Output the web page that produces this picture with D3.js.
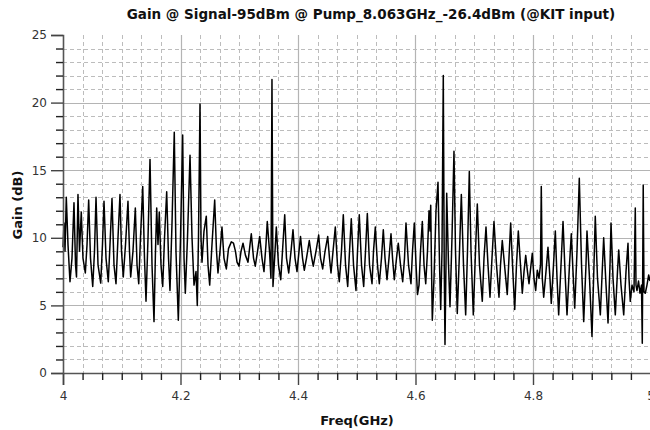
<!DOCTYPE html>
<html>
<head>
<meta charset="utf-8">
<script src="https://cdn.jsdelivr.net/npm/d3@7/dist/d3.min.js"></script>
<style>
  html, body { margin: 0; padding: 0; background: #fff; }
  svg { display: block; }
</style>
</head>
<body>
<svg id="chart" width="650" height="430"></svg>
<script>
const titleText = "Gain @ Signal-95dBm @ Pump_8.063GHz_-26.4dBm (@KIT input)";
const xLabel = "Freq(GHz)";
const yLabel = "Gain (dB)";
const xTickValues = [4, 4.2, 4.4, 4.6, 4.8, 5];
const xTickLabels = ["4", "4.2", "4.4", "4.6", "4.8", "5"];
const yTickValues = [0, 5, 10, 15, 20, 25];
const yTickLabels = ["0", "5", "10", "15", "20", "25"];

const freq = [
4.0000,4.0017,4.0034,4.0056,4.0085,4.0119,4.0153,4.0187,4.0213,4.0230,
4.0255,4.0281,4.0311,4.0340,4.0380,4.0409,4.0437,4.0468,4.0506,4.0536,
4.0562,4.0596,4.0642,4.0672,4.0698,4.0732,4.0771,4.0800,4.0834,4.0868,
4.0902,4.0936,4.0970,4.0996,4.1026,4.1064,4.1106,4.1132,4.1152,4.1191,
4.1231,4.1260,4.1289,4.1319,4.1357,4.1387,4.1413,4.1447,4.1481,4.1515,
4.1549,4.1574,4.1595,4.1617,4.1639,4.1668,4.1697,4.1728,4.1765,4.1796,
4.1821,4.1855,4.1894,4.1923,4.1963,4.2000,4.2037,4.2060,4.2082,4.2119,
4.2162,4.2196,4.2230,4.2264,4.2286,4.2306,4.2332,4.2349,4.2366,4.2400,
4.2439,4.2468,4.2497,4.2536,4.2582,4.2613,4.2638,4.2672,4.2706,4.2740,
4.2780,4.2817,4.2865,4.2902,4.2936,4.2962,4.2996,4.3030,4.3064,4.3106,
4.3149,4.3183,4.3205,4.3243,4.3273,4.3311,4.3348,4.3387,4.3421,4.3455,
4.3477,4.3515,4.3540,4.3557,4.3574,4.3609,4.3631,4.3668,4.3706,4.3736,
4.3774,4.3804,4.3842,4.3881,4.3915,4.3949,4.3983,4.4017,4.4043,4.4077,
4.4107,4.4145,4.4192,4.4230,4.4260,4.4306,4.4352,4.4383,4.4420,4.4460,
4.4506,4.4536,4.4562,4.4596,4.4635,4.4672,4.4703,4.4740,4.4771,4.4809,
4.4846,4.4877,4.4907,4.4945,4.4987,4.5013,4.5043,4.5081,4.5118,4.5149,
4.5180,4.5217,4.5260,4.5285,4.5316,4.5353,4.5384,4.5421,4.5452,4.5481,
4.5515,4.5549,4.5583,4.5609,4.5639,4.5677,4.5707,4.5745,4.5782,4.5813,
4.5838,4.5881,4.5923,4.5949,4.5980,4.6009,4.6034,4.6060,4.6085,4.6116,
4.6145,4.6174,4.6204,4.6230,4.6247,4.6259,4.6272,4.6286,4.6315,4.6349,
4.6383,4.6409,4.6429,4.6451,4.6473,4.6489,4.6502,4.6519,4.6531,4.6562,
4.6587,4.6621,4.6655,4.6681,4.6711,4.6749,4.6780,4.6817,4.6854,4.6885,
4.6916,4.6945,4.6984,4.7021,4.7052,4.7089,4.7137,4.7166,4.7200,4.7234,
4.7268,4.7302,4.7336,4.7379,4.7421,4.7447,4.7477,4.7515,4.7562,4.7591,
4.7620,4.7651,4.7689,4.7719,4.7750,4.7787,4.7818,4.7847,4.7876,4.7906,
4.7932,4.7966,4.7988,4.8017,4.8046,4.8073,4.8102,4.8128,4.8141,4.8158,
4.8182,4.8221,4.8255,4.8289,4.8311,4.8349,4.8380,4.8409,4.8437,4.8477,
4.8511,4.8545,4.8579,4.8621,4.8652,4.8681,4.8710,4.8749,4.8788,4.8826,
4.8863,4.8902,4.8919,4.8962,4.9004,4.9038,4.9060,4.9098,4.9146,4.9183,
4.9203,4.9243,4.9277,4.9311,4.9328,4.9362,4.9401,4.9438,4.9459,4.9498,
4.9544,4.9583,4.9617,4.9634,4.9656,4.9685,4.9719,4.9741,4.9753,4.9770,
4.9796,4.9821,4.9847,4.9860,4.9876,4.9889,4.9911,4.9940,4.9969,4.9991
];

const gain = [
9.3,11.1,9.0,13.0,9.5,6.75,8.5,12.6,8.0,7.1,
13.2,9.0,11.9,8.5,7.4,9.5,12.8,8.5,6.4,9.0,
13.0,8.0,6.65,9.5,12.7,8.5,6.75,9.5,12.9,8.0,
6.6,10.0,13.2,9.0,7.1,9.5,12.7,9.0,7.1,9.0,
12.2,8.0,6.6,10.0,13.8,8.5,5.3,10.0,15.8,8.0,
3.8,9.0,12.2,9.5,11.9,8.0,6.4,10.0,13.4,8.5,
6.1,11.0,17.8,9.0,3.9,10.0,17.6,8.5,5.9,10.0,
16.1,10.0,6.5,7.5,5.0,10.0,19.9,10.0,8.2,10.5,
11.6,8.0,6.5,9.5,12.8,9.0,7.4,9.0,10.8,8.5,
7.7,9.2,9.7,9.6,9.0,8.2,7.9,9.0,9.6,8.7,
8.2,9.5,10.3,8.5,7.9,9.0,10.1,8.5,7.5,9.5,
11.2,9.0,7.0,21.7,6.4,9.0,10.8,8.0,6.9,9.0,
11.7,8.5,7.4,9.0,10.6,8.5,7.5,9.0,10.1,8.5,
7.6,8.5,9.8,8.6,7.9,9.0,10.2,8.5,7.7,9.0,
10.1,8.5,7.4,9.0,10.8,8.0,6.75,9.0,11.7,8.0,
6.4,9.0,11.4,8.0,6.1,9.0,11.7,8.0,6.4,9.0,
11.8,8.0,6.6,9.0,10.8,8.0,6.6,8.5,10.6,8.5,
6.9,8.5,10.3,8.5,6.9,8.5,9.6,8.0,6.75,8.5,
11.1,8.0,6.6,9.0,11.1,8.0,5.8,6.5,9.0,11.2,
8.0,6.6,9.0,12.0,10.5,12.4,8.0,3.9,7.0,12.0,
14.1,8.0,4.7,9.0,22.0,8.0,2.1,8.0,13.3,8.0,
4.9,10.0,16.4,9.0,4.4,9.0,13.2,8.0,4.3,9.0,
14.9,9.0,4.3,9.0,12.5,8.0,5.3,8.5,10.8,8.0,
5.6,8.5,11.2,8.0,5.6,8.0,9.8,8.0,5.8,8.5,
11.1,8.0,4.7,8.0,10.5,8.0,5.9,7.5,8.7,7.5,
6.6,8.0,8.85,7.0,6.1,7.6,7.0,8.0,13.8,7.0,
5.6,7.5,9.3,7.0,5.15,8.0,10.5,7.0,4.3,8.0,
11.2,7.5,4.3,8.0,10.3,7.5,4.8,9.0,14.4,8.0,
3.8,8.0,10.5,7.0,2.7,8.0,11.6,7.0,4.3,8.0,
10.0,6.5,3.7,8.0,11.1,7.0,4.3,7.5,9.1,6.5,
4.3,7.5,9.6,7.0,5.3,6.5,6.0,12.2,6.5,6.1,
6.8,5.9,6.5,2.2,13.9,6.0,5.9,6.5,7.25,6.8
];

const svg = d3.select("#chart");
const W = 650, H = 430;
const m = { left: 63, right: -0.5, top: 35, bottom: 57 };
const x = d3.scaleLinear().domain([4, 5]).range([m.left, W - m.right]);
const y = d3.scaleLinear().domain([0, 25]).range([H - m.bottom, m.top]);

svg.append("rect").attr("width", W).attr("height", H).attr("fill", "#fff");

// grid
const xMinor = d3.range(1, 30).map(i => 4 + i / 30);
const yMinor = d3.range(1, 25);
const grid = svg.append("g");
xMinor.forEach((v, i) => {
  const major = (i + 1) % 6 === 0;
  grid.append("line")
    .attr("x1", Math.round(x(v)) + 0.5).attr("x2", Math.round(x(v)) + 0.5)
    .attr("y1", y(25)).attr("y2", y(0))
    .attr("stroke", major ? "#b4b4b4" : "#bcbcbc")
    .attr("stroke-width", major ? 1.2 : 1)
    .attr("stroke-dasharray", major ? null : "4,3");
});
yMinor.forEach(v => {
  const major = v % 5 === 0;
  grid.append("line")
    .attr("x1", x(4)).attr("x2", W)
    .attr("y1", Math.round(y(v)) + 0.5).attr("y2", Math.round(y(v)) + 0.5)
    .attr("stroke", major ? "#b4b4b4" : "#bcbcbc")
    .attr("stroke-width", major ? 1.2 : 1)
    .attr("stroke-dasharray", major ? null : "4,3");
});

// data line
const pts = freq.map((f, i) => [f, gain[i]]);
const line = d3.line().x(d => x(d[0])).y(d => y(d[1]));
svg.append("path").datum(pts)
  .attr("d", line)
  .attr("fill", "none")
  .attr("stroke", "#000")
  .attr("stroke-width", 1.5)
  .attr("stroke-linejoin", "round");

// axes
const axisColor = "#555";
const xAxis = d3.axisBottom(x).tickValues(xTickValues)
  .tickFormat((d, i) => xTickLabels[i]).tickSize(12).tickPadding(6);
const yAxis = d3.axisLeft(y).tickValues(yTickValues)
  .tickFormat((d, i) => yTickLabels[i]).tickSize(12).tickPadding(4);

const gx = svg.append("g").attr("transform", `translate(0,${y(0)})`).call(xAxis);
const gy = svg.append("g").attr("transform", `translate(${x(4)},0)`).call(yAxis);
[gx, gy].forEach(g => {
  g.select(".domain").attr("stroke", axisColor).attr("stroke-width", 1.6);
  g.selectAll(".tick line").attr("stroke", "#444").attr("stroke-width", 1.4);
  g.selectAll(".tick text").attr("fill", "#333")
    .style("font-family", "DejaVu Sans, sans-serif").style("font-size", "12px");
});

// minor ticks
const gxm = svg.append("g").attr("transform", `translate(0,${y(0)})`)
  .call(d3.axisBottom(x).tickValues(xMinor.filter((v, i) => (i + 1) % 6 !== 0)).tickSize(7).tickFormat(""));
const gym = svg.append("g").attr("transform", `translate(${x(4)},0)`)
  .call(d3.axisLeft(y).tickValues(yMinor.filter(v => v % 5 !== 0)).tickSize(7).tickFormat(""));
[gxm, gym].forEach(g => {
  g.select(".domain").remove();
  g.selectAll(".tick line").attr("stroke", "#222").attr("stroke-width", 1.4);
});

// titles
svg.append("text").attr("x", 371).attr("y", 19).attr("text-anchor", "middle")
  .style("font-family", "DejaVu Sans, sans-serif").style("font-size", "13.5px")
  .style("font-weight", "bold").attr("fill", "#111").text(titleText);
svg.append("text").attr("x", 357).attr("y", 425).attr("text-anchor", "middle")
  .style("font-family", "DejaVu Sans, sans-serif").style("font-size", "13px")
  .style("font-weight", "bold").attr("fill", "#111").text(xLabel);
svg.append("text").attr("transform", "translate(22,205) rotate(-90)").attr("text-anchor", "middle")
  .style("font-family", "DejaVu Sans, sans-serif").style("font-size", "13px")
  .style("font-weight", "bold").attr("fill", "#111").text(yLabel);
</script>
</body>
</html>
